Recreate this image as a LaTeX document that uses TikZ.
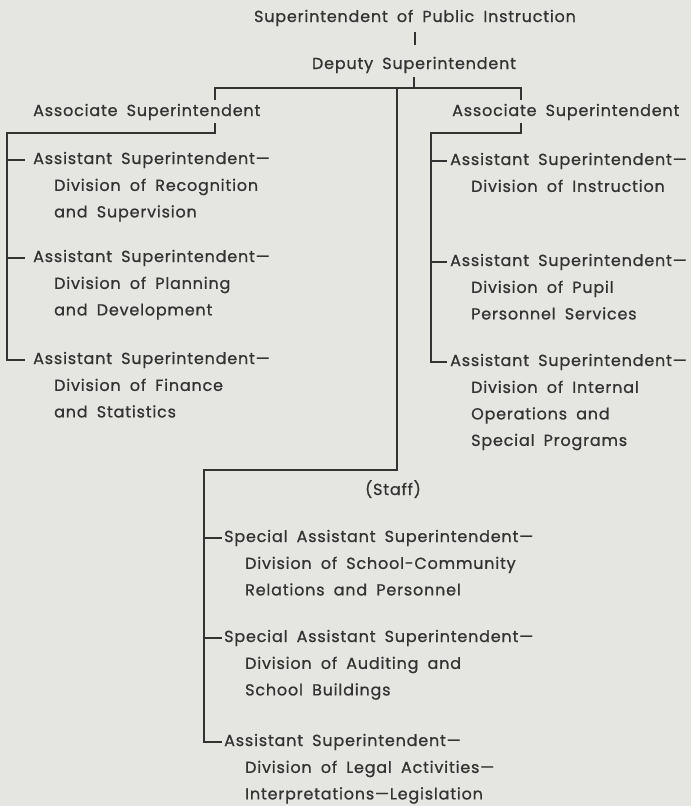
\documentclass[tikz,border=0pt]{standalone}
\usepackage{fontspec}
\setmainfont{Poppins}[LetterSpace=5, WordSpace=1.8, FakeBold=0.8]
\usetikzlibrary{positioning}
\definecolor{paper}{HTML}{E5E5E1}
\definecolor{ink}{HTML}{333333}

\begin{document}
\begin{tikzpicture}[
    x=1pt, y=-1pt,
    every node/.style={inner sep=0pt, text=ink, font=\fontsize{16}{26.5}\selectfont},
    post/.style={anchor=base west, text height=12pt, text depth=4pt},
    head/.style={anchor=base, text height=12pt, text depth=4pt},
    detail/.style={align=left, below right=14.5pt and 21pt of #1.base west},
    link/.style={draw=ink, line width=1.4pt},
    tick/.style={link, shorten >=#1},
]
\fill[paper] (0,0) rectangle (691,806);
\useasboundingbox (0,0) rectangle (691,806);

\node[head] (chief) at (415,22) {Superintendent of Public Instruction};
\node[head] (deputy) at (414,69) {Deputy Superintendent};
\node[post] (assocL) at (33,116) {Associate Superintendent};
\node[post] (assocR) at (452,116) {Associate Superintendent};

\node[post] (asA) at (33,164) {Assistant Superintendent—};
\node[detail=asA] (asAd) {\rule{0pt}{12pt}Division of Recognition\\and Supervision};
\node[post] (asB) at (33,262) {Assistant Superintendent—};
\node[detail=asB] (asBd) {\rule{0pt}{12pt}Division of Planning\\and Development};
\node[post] (asC) at (33,364) {Assistant Superintendent—};
\node[detail=asC] (asCd) {\rule{0pt}{12pt}Division of Finance\\and Statistics};

\node[post] (rsA) at (450,165) {Assistant Superintendent—};
\node[detail=rsA] (rsAd) {\rule{0pt}{12pt}Division of Instruction};
\node[post] (rsB) at (450,266) {Assistant Superintendent—};
\node[detail=rsB] (rsBd) {\rule{0pt}{12pt}Division of Pupil\\Personnel Services};
\node[post] (rsC) at (450,366) {Assistant Superintendent—};
\node[detail=rsC] (rsCd) {\rule{0pt}{12pt}Division of Internal\\Operations and\\Special Programs};

\node[head] (staff) at (393,495) {(Staff)};
\node[post] (spA) at (224,542) {Special Assistant Superintendent—};
\node[detail=spA] (spAd) {\rule{0pt}{12pt}Division of School-Community\\Relations and Personnel};
\node[post] (spB) at (224,642) {Special Assistant Superintendent—};
\node[detail=spB] (spBd) {\rule{0pt}{12pt}Division of Auditing and\\School Buildings};
\node[post] (spC) at (224,746) {Assistant Superintendent—};
\node[detail=spC] (spCd) {\rule{0pt}{12pt}Division of Legal Activities—\\Interpretations—Legislation};

\coordinate (busL) at (215,88);
\coordinate (busM) at (397,88);
\coordinate (busR) at (521,88);
\coordinate (railL) at (7,133);
\coordinate (railR) at (431,133);
\coordinate (railS) at (204,470);

\draw[link, shorten <=6pt, shorten >=12pt] (chief.south) -- (chief.south |- deputy.north);
\draw[link, shorten <=4pt] (deputy.south) -- (deputy.south |- busL);
\draw[link, shorten <=4pt, shorten >=4pt] (assocL.north -| busL) -- (busL) -- (busR) -- (assocR.north -| busR);

\draw[link, shorten <=3pt, shorten >=8pt] (assocL.south -| busL) |- (railL) |- (asC.west);
\draw[tick=8pt] (railL |- asA.west) -- (asA.west);
\draw[tick=8pt] (railL |- asB.west) -- (asB.west);

\draw[link, shorten <=3pt, shorten >=3pt] (assocR.south -| busR) |- (railR) |- (rsC.west);
\draw[tick=3pt] (railR |- rsA.west) -- (rsA.west);
\draw[tick=3pt] (railR |- rsB.west) -- (rsB.west);

\draw[link, shorten >=2pt] (busM) |- (railS) |- (spC.west);
\draw[tick=2pt] (railS |- spA.west) -- (spA.west);
\draw[tick=2pt] (railS |- spB.west) -- (spB.west);
\end{tikzpicture}
\end{document}
